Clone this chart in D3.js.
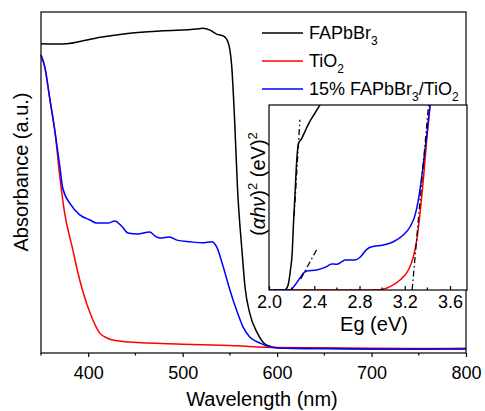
<!DOCTYPE html>
<html>
<head>
<meta charset="utf-8">
<script src="https://cdn.jsdelivr.net/npm/d3@7"></script>
<style>
body { margin: 0; background: #fff; }
svg { display: block; font-family: "Liberation Sans", Arial, sans-serif; }
</style>
</head>
<body>
<svg id="chart" width="485" height="411"></svg>
<script>
// Main UV-vis spectra (absorbance in arbitrary units, 0..1 of the frame)
var blackWl  = [350, 373, 409, 444, 479, 515, 521, 529, 536, 543, 548, 552, 555, 558, 563, 566, 571, 579, 589, 603, 650, 700, 750, 800];
var blackAbs = [0.907, 0.906, 0.924, 0.938, 0.945, 0.950, 0.952, 0.947, 0.935, 0.930, 0.912, 0.839, 0.683, 0.487, 0.293, 0.194, 0.117, 0.059, 0.023, 0.015, 0.013, 0.012, 0.012, 0.013];

var redWl  = [350, 354, 359.5, 365, 370, 375, 383, 391, 402, 412, 420, 426, 444, 500, 550, 600, 700, 800];
var redAbs = [0.874, 0.839, 0.742, 0.645, 0.515, 0.411, 0.311, 0.214, 0.117, 0.059, 0.044, 0.038, 0.032, 0.026, 0.022, 0.016, 0.014, 0.013];

var blueWl  = [350, 354, 359.5, 365, 370, 373, 381, 391, 402, 409, 421, 428, 436, 442, 452, 465, 471, 476, 486, 494, 508, 521, 531, 536, 543, 550, 557, 564, 571, 582, 592, 600, 650, 700, 750, 800];
var blueAbs = [0.874, 0.839, 0.742, 0.645, 0.545, 0.484, 0.437, 0.405, 0.390, 0.381, 0.381, 0.387, 0.370, 0.352, 0.349, 0.355, 0.343, 0.337, 0.340, 0.331, 0.326, 0.323, 0.326, 0.311, 0.252, 0.185, 0.126, 0.076, 0.047, 0.029, 0.018, 0.015, 0.013, 0.012, 0.012, 0.012];

// Inset Tauc plot
var blackEv = [2.00, 2.12, 2.15, 2.17, 2.19, 2.205, 2.215, 2.23, 2.245, 2.26, 2.29, 2.32, 2.36, 2.40, 2.45, 2.50];
var blackTauc = [0, 0, 0.005, 0.03, 0.11, 0.20, 0.34, 0.52, 0.70, 0.79, 0.82, 0.86, 0.91, 0.95, 1.0, 1.05];

var redEv = [2.00, 2.89, 2.98, 3.07, 3.158, 3.232, 3.276, 3.306, 3.335, 3.364, 3.394, 3.424, 3.45];
var redTauc = [0, 0, 0.002, 0.018, 0.054, 0.108, 0.18, 0.27, 0.415, 0.595, 0.811, 1.0, 1.15];

var blueEv = [2.00, 2.186, 2.23, 2.274, 2.303, 2.333, 2.422, 2.51, 2.554, 2.599, 2.643, 2.672, 2.76, 2.805, 2.864, 2.908, 3.011, 3.099, 3.187, 3.247, 3.291, 3.32, 3.35, 3.379, 3.409, 3.424, 3.45];
var blueTauc = [0, 0, 0.027, 0.065, 0.090, 0.103, 0.108, 0.126, 0.141, 0.139, 0.153, 0.162, 0.162, 0.177, 0.220, 0.234, 0.243, 0.261, 0.297, 0.342, 0.405, 0.486, 0.612, 0.757, 0.919, 1.0, 1.15];

// tangent (dash-dot) lines: [ev0, ev1], [v0, v1]
var tangentEv = [[2.222, 2.273], [2.28, 2.425], [3.265, 3.41]];
var tangentTauc = [[0.40, 0.92], [0.06, 0.222], [0, 1.0]];

var mainTicks = [400, 500, 600, 700, 800];
var mainMinor = [350, 450, 550, 650, 750];
var insetTicks = [2.0, 2.4, 2.8, 3.2, 3.6];
var insetMinor = [2.2, 2.6, 3.0, 3.4];

var legendLabels = [
    [{t: 'FAPbBr'}, {t: '3', sub: true}],
    [{t: 'TiO'}, {t: '2', sub: true}],
    [{t: '15% FAPbBr'}, {t: '3', sub: true}, {t: '/TiO'}, {t: '2', sub: true}]
];
var colors = ['#000000', '#ff0000', '#0000ff'];

var svg = d3.select('#chart');

function zip(xs, ys) {
    return xs.map(function (d, i) { return [d, ys[i]]; });
}

function drawSeries(g, pts, xScale, yScale, color, clip) {
    var line = d3.line()
        .x(function (d) { return xScale(d[0]); })
        .y(function (d) { return yScale(d[1]); })
        .curve(d3.curveMonotoneX);
    var p = g.append('path')
        .attr('d', line(pts))
        .attr('fill', 'none')
        .attr('stroke', color)
        .attr('stroke-width', 1.5)
        .attr('stroke-linejoin', 'round');
    if (clip) p.attr('clip-path', clip);
}

// ---------- main plot ----------
var x = d3.scaleLinear().domain([350, 800]).range([41, 466]);
var y = d3.scaleLinear().domain([0, 1]).range([353, 12]);

var main = svg.append('g');

drawSeries(main, zip(blackWl, blackAbs), x, y, colors[0]);
drawSeries(main, zip(redWl, redAbs), x, y, colors[1]);
drawSeries(main, zip(blueWl, blueAbs), x, y, colors[2]);

main.append('rect')
    .attr('x', x(350)).attr('y', y(1))
    .attr('width', x(800) - x(350)).attr('height', y(0) - y(1))
    .attr('fill', 'none').attr('stroke', '#000').attr('stroke-width', 1.2);

var xAxis = main.append('g')
    .attr('transform', 'translate(0,' + y(0) + ')')
    .call(d3.axisBottom(x).tickValues(mainTicks).tickSizeInner(4).tickSizeOuter(0).tickPadding(9.5));
xAxis.select('.domain').remove();
xAxis.selectAll('text').attr('font-size', 18).attr('fill', '#000').attr('font-family', null);
xAxis.selectAll('line').attr('stroke-width', 1.2);

main.append('g').selectAll('line')
    .data(mainMinor).enter()
    .append('line')
    .attr('x1', function (d) { return x(d); }).attr('x2', function (d) { return x(d); })
    .attr('y1', y(0)).attr('y2', y(0) + 2.5)
    .attr('stroke', '#000').attr('stroke-width', 1.2);

main.append('text')
    .attr('x', 262).attr('y', 406)
    .attr('text-anchor', 'middle').attr('font-size', 20)
    .text('Wavelength (nm)');

main.append('text')
    .attr('transform', 'translate(28,172) rotate(-90)')
    .attr('text-anchor', 'middle').attr('font-size', 20)
    .text('Absorbance (a.u.)');

// ---------- legend ----------
var legend = svg.append('g');
var legendY = [33, 61, 89];
legendLabels.forEach(function (parts, i) {
    legend.append('line')
        .attr('x1', 262).attr('x2', 303)
        .attr('y1', legendY[i]).attr('y2', legendY[i])
        .attr('stroke', colors[i]).attr('stroke-width', 1.5);
    var t = legend.append('text')
        .attr('x', 309).attr('y', legendY[i] + 5.5)
        .attr('font-size', 18);
    parts.forEach(function (p) {
        var s = t.append('tspan').text(p.t);
        if (p.sub) s.attr('font-size', 12).attr('dy', 6);
        else if (t.selectAll('tspan').size() > 1) s.attr('dy', -6);
    });
});

// ---------- inset ----------
var ix = d3.scaleLinear().domain([2.0, 3.75]).range([269, 467]);
var iy = d3.scaleLinear().domain([0, 1]).range([290, 105]);
var inset = svg.append('g');

inset.append('rect')
    .attr('x', ix(2.0)).attr('y', iy(1))
    .attr('width', ix(3.75) - ix(2.0)).attr('height', iy(0) - iy(1))
    .attr('fill', '#fff');

svg.append('clipPath').attr('id', 'insetClip')
    .append('rect')
    .attr('x', ix(2.0)).attr('y', iy(1))
    .attr('width', ix(3.75) - ix(2.0)).attr('height', iy(0) - iy(1));

drawSeries(inset, zip(blackEv, blackTauc), ix, iy, colors[0], 'url(#insetClip)');
drawSeries(inset, zip(redEv, redTauc), ix, iy, colors[1], 'url(#insetClip)');
drawSeries(inset, zip(blueEv, blueTauc), ix, iy, colors[2], 'url(#insetClip)');

inset.append('g').selectAll('line')
    .data(tangentEv).enter()
    .append('line')
    .attr('x1', function (d) { return ix(d[0]); })
    .attr('x2', function (d) { return ix(d[1]); })
    .attr('y1', function (d, i) { return iy(tangentTauc[i][0]); })
    .attr('y2', function (d, i) { return iy(tangentTauc[i][1]); })
    .attr('stroke', '#000').attr('stroke-width', 1.3)
    .attr('stroke-dasharray', '6,3,1.5,3');

inset.append('rect')
    .attr('x', ix(2.0)).attr('y', iy(1))
    .attr('width', ix(3.75) - ix(2.0)).attr('height', iy(0) - iy(1))
    .attr('fill', 'none').attr('stroke', '#000').attr('stroke-width', 1.2);

var ixAxis = inset.append('g')
    .attr('transform', 'translate(0,' + iy(0) + ')')
    .call(d3.axisBottom(ix).tickValues(insetTicks).tickFormat(d3.format('.1f'))
        .tickSizeInner(-4).tickSizeOuter(0).tickPadding(5.5));
ixAxis.select('.domain').remove();
ixAxis.selectAll('text').attr('font-size', 18).attr('fill', '#000').attr('font-family', null);
ixAxis.selectAll('line').attr('stroke-width', 1.2);

inset.append('g').selectAll('line')
    .data(insetMinor).enter()
    .append('line')
    .attr('x1', function (d) { return ix(d); }).attr('x2', function (d) { return ix(d); })
    .attr('y1', iy(0)).attr('y2', iy(0) - 2.5)
    .attr('stroke', '#000').attr('stroke-width', 1.2);

inset.append('text')
    .attr('x', 374).attr('y', 331)
    .attr('text-anchor', 'middle').attr('font-size', 20)
    .text('Eg (eV)');

var ylab = inset.append('text')
    .attr('transform', 'translate(265,184) rotate(-90)')
    .attr('text-anchor', 'middle').attr('font-size', 20);
ylab.append('tspan').text('(');
ylab.append('tspan').attr('font-style', 'italic').text('\u03b1h\u03bd');
ylab.append('tspan').text(')');
ylab.append('tspan').attr('font-size', 13).attr('dy', -8).text('2');
ylab.append('tspan').attr('dy', 8).text(' (eV)');
ylab.append('tspan').attr('font-size', 13).attr('dy', -8).text('2');
</script>
</body>
</html>
